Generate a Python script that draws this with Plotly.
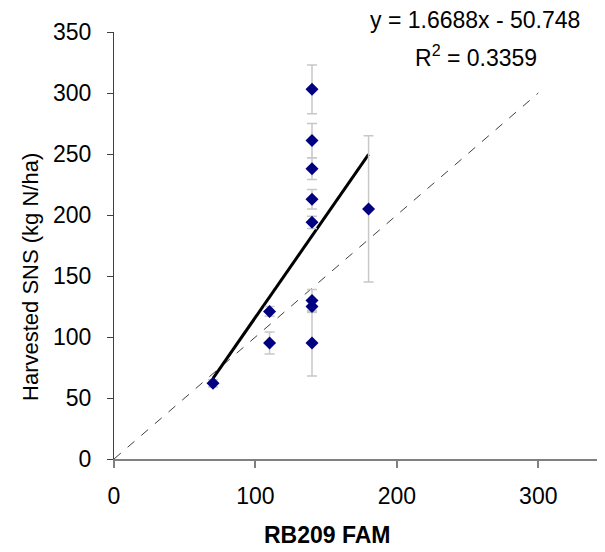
import plotly.graph_objects as go

fam = [70, 110, 110, 140, 140, 140, 140, 140, 140, 140, 140, 180]
sns = [62, 121, 95, 303, 261, 238, 213, 194, 130, 125, 95, 205]
sns_err = [3, 4, 9, 20, 14, 9, 8, 5, 9, 5, 27, 60]

slope = 1.6688
intercept = -50.748
r2 = 0.3359
trend_x = [min(fam), max(fam)]
trend_y = [slope * v + intercept for v in trend_x]
identity = [0, 300]

font = "Liberation Sans, Arial, sans-serif"

fig = go.Figure()
fig.add_trace(go.Scatter(x=identity, y=identity, mode="lines",
                         line=dict(color="#404040", width=1, dash="dash"),
                         hoverinfo="skip", showlegend=False))
fig.add_trace(go.Scatter(x=trend_x, y=trend_y, mode="lines",
                         line=dict(color="black", width=3),
                         showlegend=False))
fig.add_trace(go.Scatter(x=fam, y=sns, mode="markers",
                         marker=dict(symbol="diamond", size=10, color="#000080"),
                         error_y=dict(type="data", array=sns_err, visible=True,
                                      color="#c8c8c8", thickness=1.5, width=5),
                         showlegend=False))

fig.add_annotation(x=0.729, y=1.028, xref="paper", yref="paper",
                   xanchor="center", yanchor="middle", showarrow=False,
                   text=f"y = {slope}x - {abs(intercept)}",
                   font=dict(family=font, size=23, color="black"))
fig.add_annotation(x=0.731, y=0.944, xref="paper", yref="paper",
                   xanchor="center", yanchor="middle", showarrow=False,
                   text=f"R<sup>2</sup> = {r2}",
                   font=dict(family=font, size=23, color="black"))
fig.add_annotation(x=0.432, y=-0.178, xref="paper", yref="paper",
                   xanchor="center", yanchor="middle", showarrow=False,
                   text="<b>RB209 FAM</b>",
                   font=dict(family=font, size=23, color="black"))
fig.add_annotation(x=-0.170, y=0.426, xref="paper", yref="paper",
                   xanchor="center", yanchor="middle", showarrow=False, textangle=-90,
                   text="Harvested SNS (kg N/ha)",
                   font=dict(family=font, size=22, color="black"))

fig.update_layout(
    width=605, height=552,
    margin=dict(l=106, r=4, t=24, b=101, autoexpand=False),
    paper_bgcolor="white", plot_bgcolor="white",
    font=dict(family=font, size=23, color="black"),
    xaxis=dict(range=[0, 350], tickvals=[0, 100, 200, 300], showgrid=False, zeroline=False,
               showline=True, linecolor="#808080", linewidth=2,
               ticks="outside", ticklen=7, tickcolor="#808080", tickwidth=2,
               tickfont=dict(family=font, size=23, color="black"),
               ticklabelstandoff=8, automargin=False),
    yaxis=dict(range=[0, 350], tickvals=list(range(0, 351, 50)), showgrid=False, zeroline=False,
               showline=True, linecolor="#404040", linewidth=1,
               ticks="outside", ticklen=6, tickcolor="#404040",
               tickfont=dict(family=font, size=23, color="black"),
               ticklabelstandoff=11, automargin=False),
)

fig.write_html("out.html")
